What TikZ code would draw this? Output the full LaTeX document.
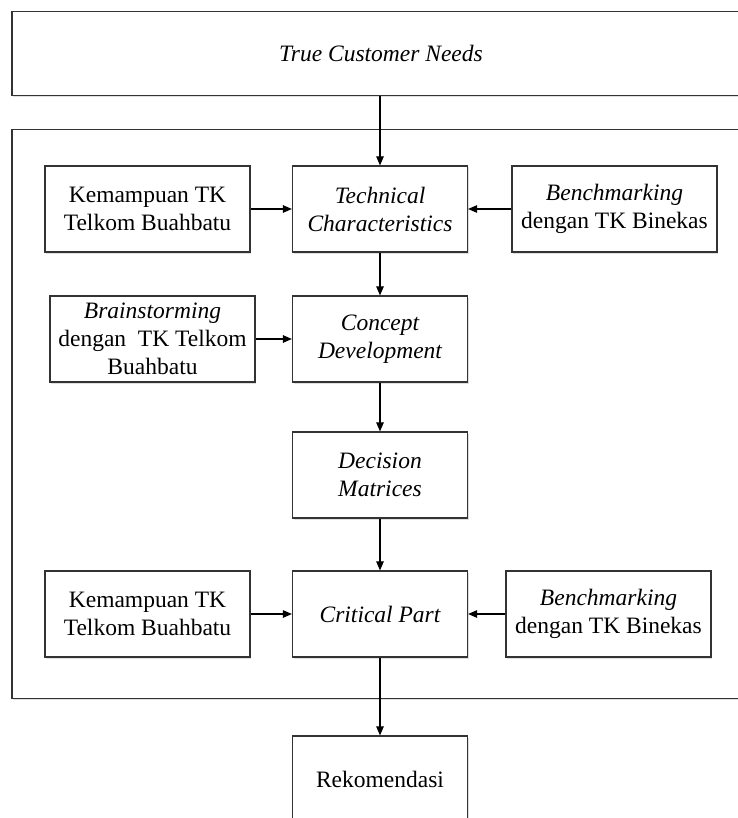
\documentclass[tikz,border=0pt]{standalone}
\usepackage{fontspec}
\setmainfont{Liberation Serif}
\usetikzlibrary{arrows.meta,shadows}

\begin{document}
\begin{tikzpicture}[x=1pt,y=-1pt,
	box/.style={draw=black!80,line width=1.2pt,fill=white,align=center,
		minimum width=175pt,minimum height=86pt,inner sep=1pt,
		font=\fontsize{23.5}{28}\selectfont,
		drop shadow={shadow xshift=1pt,shadow yshift=-1.5pt,opacity=.25}},
	sidebox/.style={box,minimum width=205pt},
	flow/.style={draw=black,line width=1.1pt,-{Triangle[length=9pt,width=7.5pt]}}]
	\useasboundingbox (0,0) rectangle (737,818);
	\node [box,minimum width=738pt,minimum height=569pt] (frame) at (381,414) {};
	\node [box,minimum width=738pt,minimum height=84pt] (need) at (381,53.5) {\itshape True Customer Needs};
	\node [box] (tech) at (380,209) {\itshape Technical\\ \itshape Characteristics};
	\node [sidebox] (ability1) at (147.5,209) {Kemampuan TK\\Telkom Buahbatu};
	\node [sidebox] (bench1) at (614.5,209) {\itshape Benchmarking\\dengan TK Binekas};
	\node [box] (concept) at (380,339) {\itshape Concept\\ \itshape Development};
	\node [sidebox] (brain) at (152.5,339) {\itshape Brainstorming\\dengan~ TK Telkom\\Buahbatu};
	\node [box] (decision) at (380,475) {\itshape Decision\\ \itshape Matrices};
	\node [box] (critical) at (380,614) {\itshape Critical Part};
	\node [sidebox] (ability2) at (147.5,614) {Kemampuan TK\\Telkom Buahbatu};
	\node [sidebox] (bench2) at (608.5,614) {\itshape Benchmarking\\dengan TK Binekas};
	\node [box] (rekom) at (380,779) {Rekomendasi};

	\draw [flow] (need.south -| tech.north) -- (tech.north);
	\draw [flow] (ability1) -- (tech);
	\draw [flow] (bench1) -- (tech);
	\draw [flow] (tech) -- (concept);
	\draw [flow] (brain) -- (concept);
	\draw [flow] (concept) -- (decision);
	\draw [flow] (decision) -- (critical);
	\draw [flow] (ability2) -- (critical);
	\draw [flow] (bench2) -- (critical);
	\draw [flow] (critical) -- (rekom);
\end{tikzpicture}
\end{document}
